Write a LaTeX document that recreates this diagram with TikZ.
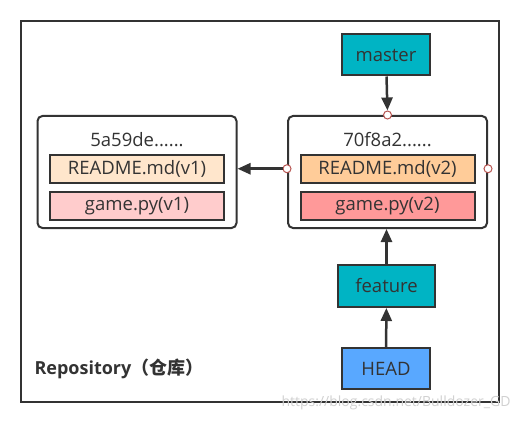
\documentclass[tikz,border=0pt]{standalone}
\usepackage{fontspec}
\setmainfont{Open Sans}
\newfontfamily\cjk{Noto Sans CJK SC}
\usetikzlibrary{positioning,shapes,arrows.meta}

\definecolor{branchcol}{HTML}{00B4C4}
\definecolor{headcol}{HTML}{59A8FF}
\definecolor{readmeold}{HTML}{FFE6CC}
\definecolor{gameold}{HTML}{FFCCCC}
\definecolor{readmenew}{HTML}{FFCC99}
\definecolor{gamenew}{HTML}{FF9999}
\definecolor{linecol}{HTML}{333333}
\definecolor{portcol}{HTML}{B85450}

\begin{document}
\begin{tikzpicture}[x=1pt,y=1pt,font=\fontsize{18.5}{21}\selectfont,text=linecol]
            \tikzstyle{ref} = [rectangle, minimum width=88pt, minimum height=41pt, text centered, draw=linecol, line width=2pt, fill=branchcol, inner sep=0pt]
            \tikzstyle{commit} = [rectangle, rounded corners=5pt, minimum width=199pt, minimum height=112pt, draw=linecol, line width=2pt, fill=white]
            \tikzstyle{blob} = [rectangle, minimum width=174pt, minimum height=28pt, text centered, draw=linecol, line width=2pt, inner sep=0pt]
            \tikzstyle{port} = [circle, minimum size=8pt, inner sep=0pt, draw=portcol, line width=1pt, fill=white]
            \tikzstyle{arrow} = [line width=2.5pt, draw=linecol, -{Triangle[length=13pt,width=11pt]}]

            \useasboundingbox (0,0) rectangle (529,421);
            \fill[white] (0,0) rectangle (529,421);

            % Repository frame
            \draw[linecol, line width=2pt] (21,19) rectangle (499,400);
            \node (repo) [anchor=west, font=\fontsize{18}{21}\selectfont\bfseries] at (31,52) {Repository{\cjk（仓库）}};

            % Commits
            \node (c1) [commit] at (137,249) {};
            \node (c2) [commit] at (387.5,249) {};
            \node (c1id) at (137,281) {5a59de......};
            \node (c2id) at (387.5,281) {70f8a2......};
            \node (c1readme) [blob, fill=readmeold, below=3pt of c1id] {README.md(v1)};
            \node (c1game) [blob, fill=gameold, below=7pt of c1readme] {game.py(v1)};
            \node (c2readme) [blob, fill=readmenew, below=3pt of c2id] {README.md(v2)};
            \node (c2game) [blob, fill=gamenew, below=7pt of c2readme] {game.py(v2)};

            % Connection points
            \node (c2top) [port] at (c2.north) {};
            \node (c2left) [port] at (c2.west |- c2readme) {};
            \node (c2right) [port] at (c2.east |- c2readme) {};

            % Branches and HEAD
            \node (master) [ref] at (386,366) {master};
            \node (feature) [ref, minimum width=97pt, minimum height=42pt] at (386.5,135) {feature};
            \node (head) [ref, fill=headcol] at (386,52.5) {HEAD};

            % Arrows
            \draw [arrow] (master) -- (c2top);
            \draw [arrow] (c2left) -- (c2left -| c1.east);
            \draw [arrow] (feature) -- (feature |- c2.south);
            \draw [arrow] (head) -- (feature);

            % Watermark
            \node (mark) [anchor=east, text=black!18, font=\fontsize{14}{16}\selectfont] at (514,18) {https://blog.csdn.net/Bulldozer\_GD};
\end{tikzpicture}
\end{document}
